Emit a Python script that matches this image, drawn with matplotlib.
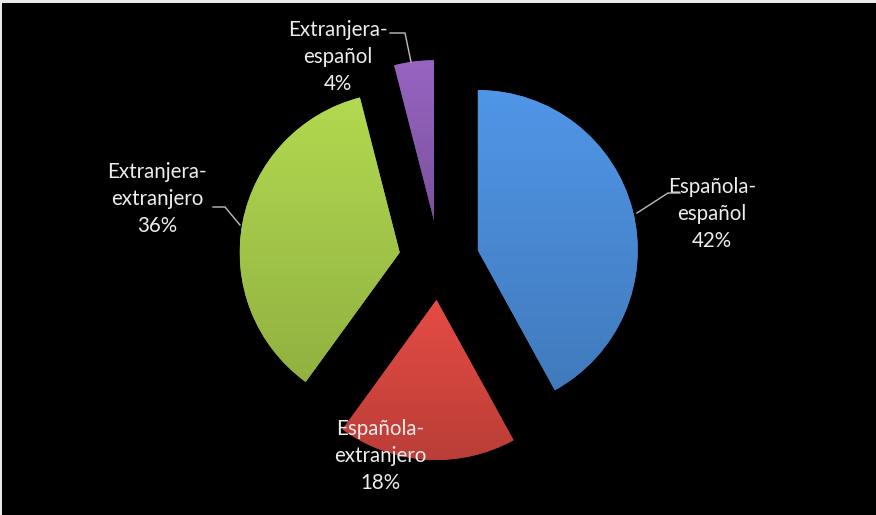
import matplotlib
matplotlib.use("Agg")
import matplotlib.pyplot as plt
import numpy as np
from matplotlib.patches import Rectangle
from matplotlib.colors import to_rgb

# Data
categories = ["Española-\nespañol", "Española-\nextranjero", "Extranjera-\nextranjero", "Extranjera-\nespañol"]
values = [42, 18, 36, 4]
pct_labels = ["42%", "18%", "36%", "4%"]
colors = ["#4a8bd6", "#d4463f", "#a5c94a", "#8c5db3"]

W, H = 876, 515
R = 160
fig = plt.figure(figsize=(W / 100, H / 100), dpi=100, facecolor="black")
ax = fig.add_axes([0, 0, 1, 1])
ax.set_facecolor("black")

wedges, _ = ax.pie(values, colors=colors, startangle=90, counterclock=False,
                   explode=[0.25 * R] * len(values), radius=R, center=(439, H - 260),
                   wedgeprops=dict(linewidth=0))

# subtle vertical shading on each slice (lighter top, darker bottom)
for w, c in zip(wedges, colors):
    ext = w.get_path().get_extents()
    base = np.array(to_rgb(c))
    t = np.linspace(0, 1, 128)[:, None]
    top = np.clip(base * 1.08, 0, 1)
    bot = base * 0.88
    grad = top * (1 - t) + bot * t
    img = grad[:, None, :]
    im = ax.imshow(img, extent=(ext.x0, ext.x1, ext.y0, ext.y1), origin="upper",
                   aspect="auto", interpolation="bilinear", zorder=w.get_zorder() + 0.1)
    im.set_clip_path(w)

ax.set_xlim(0, W)
ax.set_ylim(0, H)
ax.axis("off")

label_pos = [(712, 214), (380, 456), (157, 199), (338, 57)]
for cat, pct, (x, y) in zip(categories, pct_labels, label_pos):
    ax.text(x, H - y, f"{cat}\n{pct}", ha="center", va="center", multialignment="center",
            color="#ededed", fontsize=14.8, linespacing=1.42, family=["Lato", "DejaVu Sans"],
            zorder=5)

# leader lines
leaders = [
    [(637, 213), (668, 193), (680, 193)],
    [(213, 207), (225, 207), (240, 225)],
    [(390, 33), (405, 33), (411, 62)],
]
for pts in leaders:
    xs = [p[0] for p in pts]
    ys = [H - p[1] for p in pts]
    ax.plot(xs, ys, color="#bfbfbf", lw=1.0, zorder=5)

# grey frame (top and left)
fig.patches.append(Rectangle((0, 1 - 3 / H), 1, 3 / H, transform=fig.transFigure,
                             facecolor="#e8e8e8", edgecolor="none", zorder=10))
fig.patches.append(Rectangle((0, 0), 2 / W, 1, transform=fig.transFigure,
                             facecolor="#e8e8e8", edgecolor="none", zorder=10))

fig.savefig("out.png", dpi=100, facecolor="black")
